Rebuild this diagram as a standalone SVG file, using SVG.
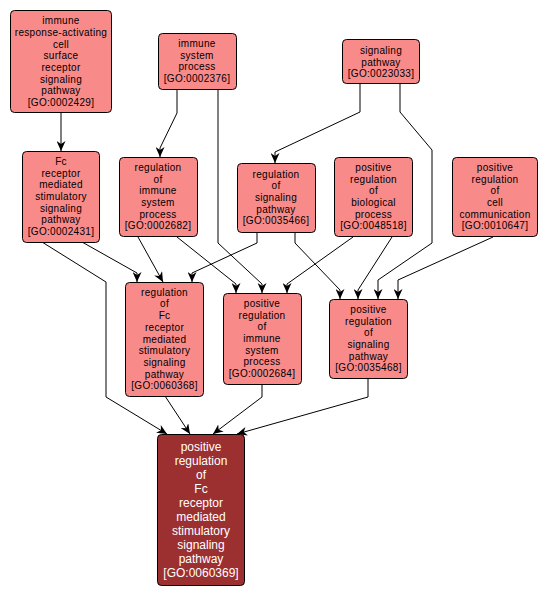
<svg xmlns="http://www.w3.org/2000/svg" width="548" height="598" viewBox="0 0 548 598">
<style>
.n rect{fill:#F98A8A;stroke:#000;stroke-width:1}
.n text{font-family:"Liberation Sans",Arial,sans-serif;font-size:10px;fill:#000;text-anchor:middle;letter-spacing:0.3px}
.f rect{fill:#9C2F2F;stroke:#000;stroke-width:1}
.f text{font-family:"Liberation Sans",Arial,sans-serif;font-size:12px;fill:#fff;text-anchor:middle}
.e path{fill:none;stroke:#000;stroke-width:1;marker-end:url(#ah)}
</style>
<defs>
<marker id="ah" markerUnits="userSpaceOnUse" markerWidth="10" markerHeight="9" refX="10" refY="4.5" orient="auto">
<path d="M0,0 L10,4.5 L0,9 L3,4.5 z" fill="#000"/>
</marker>
</defs>
<rect width="548" height="598" fill="#fff"/>
<g id="edges" class="e">
<path d="M61,112 L61,151"/>
<path d="M177,89 L177,113 L160,148 L160,157"/>
<path d="M218,89 L218,243 L262,284 L262,293"/>
<path d="M360,83 L360,112 L275,152 L275,163"/>
<path d="M400,83 L400,112 L432,150 L432,243 L378,280 L378,299"/>
<path d="M257,232 L257,243 L192,273 L192,282"/>
<path d="M295,232 L295,243 L340,290 L340,299"/>
<path d="M353,237 L287,284 L287,293"/>
<path d="M392,237 L358,290 L358,299"/>
<path d="M493,237 L398,280 L398,299"/>
<path d="M82,242 L137,273 L137,282"/>
<path d="M42,242 L106,282 L106,397 L167,434"/>
<path d="M138,237 L163,282"/>
<path d="M177,237 L236,284 L236,293"/>
<path d="M165,396 L190,434"/>
<path d="M262,384 L262,397 L213,434"/>
<path d="M368,378 L368,397 L237,434"/>
</g>
<g id="GO0002429" class="n"><rect x="10.5" y="10.5" width="101" height="102" rx="4"/>
<text x="61" y="24.2">immune</text><text x="61" y="35.9">response-activating</text><text x="61" y="47.6">cell</text><text x="61" y="59.3">surface</text><text x="61" y="71">receptor</text><text x="61" y="82.7">signaling</text><text x="61" y="94.4">pathway</text><text x="61" y="106.1">[GO:0002429]</text></g>
<g id="GO0002376" class="n"><rect x="158.5" y="33.5" width="78" height="56" rx="4"/>
<text x="197" y="47">immune</text><text x="197" y="58.7">system</text><text x="197" y="70.4">process</text><text x="197" y="82.1">[GO:0002376]</text></g>
<g id="GO0023033" class="n"><rect x="342.5" y="39.5" width="77" height="44" rx="4"/>
<text x="381" y="53.8">signaling</text><text x="381" y="65.5">pathway</text><text x="381" y="77.2">[GO:0023033]</text></g>
<g id="GO0002431" class="n"><rect x="22.5" y="151.5" width="77" height="91" rx="4"/>
<text x="61" y="164.9">Fc</text><text x="61" y="176.6">receptor</text><text x="61" y="188.3">mediated</text><text x="61" y="200">stimulatory</text><text x="61" y="211.7">signaling</text><text x="61" y="223.4">pathway</text><text x="61" y="235.1">[GO:0002431]</text></g>
<g id="GO0002682" class="n"><rect x="119.5" y="157.5" width="78" height="79" rx="4"/>
<text x="158" y="170.8">regulation</text><text x="158" y="182.5">of</text><text x="158" y="194.2">immune</text><text x="158" y="205.9">system</text><text x="158" y="217.6">process</text><text x="158" y="229.3">[GO:0002682]</text></g>
<g id="GO0035466" class="n"><rect x="237.5" y="163.5" width="78" height="69" rx="4"/>
<text x="276" y="177.6">regulation</text><text x="276" y="189.3">of</text><text x="276" y="201">signaling</text><text x="276" y="212.7">pathway</text><text x="276" y="224.4">[GO:0035466]</text></g>
<g id="GO0048518" class="n"><rect x="334.5" y="157.5" width="78" height="79" rx="4"/>
<text x="373.5" y="170.8">positive</text><text x="373.5" y="182.5">regulation</text><text x="373.5" y="194.2">of</text><text x="373.5" y="205.9">biological</text><text x="373.5" y="217.6">process</text><text x="373.5" y="229.3">[GO:0048518]</text></g>
<g id="GO0010647" class="n"><rect x="452.5" y="157.5" width="85" height="79" rx="4"/>
<text x="495" y="170.8">positive</text><text x="495" y="182.5">regulation</text><text x="495" y="194.2">of</text><text x="495" y="205.9">cell</text><text x="495" y="217.6">communication</text><text x="495" y="229.3">[GO:0010647]</text></g>
<g id="GO0060368" class="n"><rect x="125.5" y="282.5" width="78" height="114" rx="4"/>
<text x="164.5" y="295.7">regulation</text><text x="164.5" y="307.4">of</text><text x="164.5" y="319.1">Fc</text><text x="164.5" y="330.8">receptor</text><text x="164.5" y="342.5">mediated</text><text x="164.5" y="354.2">stimulatory</text><text x="164.5" y="365.9">signaling</text><text x="164.5" y="377.6">pathway</text><text x="164.5" y="389.3">[GO:0060368]</text></g>
<g id="GO0002684" class="n"><rect x="223.5" y="293.5" width="78" height="91" rx="4"/>
<text x="262" y="306.9">positive</text><text x="262" y="318.6">regulation</text><text x="262" y="330.3">of</text><text x="262" y="342">immune</text><text x="262" y="353.7">system</text><text x="262" y="365.4">process</text><text x="262" y="377.1">[GO:0002684]</text></g>
<g id="GO0035468" class="n"><rect x="329.5" y="299.5" width="78" height="79" rx="4"/>
<text x="368.5" y="312.8">positive</text><text x="368.5" y="324.5">regulation</text><text x="368.5" y="336.2">of</text><text x="368.5" y="347.9">signaling</text><text x="368.5" y="359.6">pathway</text><text x="368.5" y="371.3">[GO:0035468]</text></g>
<g id="GO0060369" class="f"><rect x="157.5" y="434.5" width="87" height="151" rx="4"/>
<text x="201" y="451">positive</text><text x="201" y="465">regulation</text><text x="201" y="479">of</text><text x="201" y="493">Fc</text><text x="201" y="507">receptor</text><text x="201" y="521">mediated</text><text x="201" y="535">stimulatory</text><text x="201" y="549">signaling</text><text x="201" y="563">pathway</text><text x="201" y="577">[GO:0060369]</text></g>
</svg>
